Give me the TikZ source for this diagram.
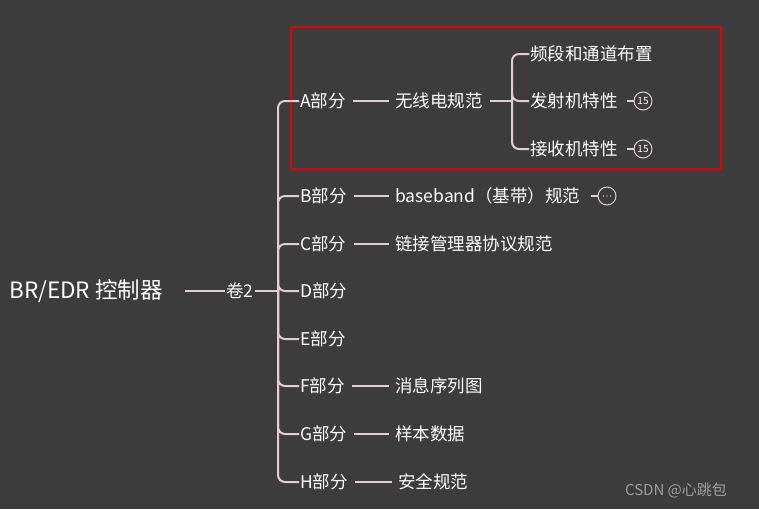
\documentclass[tikz,border=0pt]{standalone}
\usepackage{fontspec}
\setmainfont{Noto Sans CJK SC}
\usetikzlibrary{positioning}
\definecolor{bgcol}{HTML}{3C3C3C}
\definecolor{linkcol}{HTML}{E3CDD2}
\tikzset{
  topic/.style={text=white, font=\fontsize{17.5}{19}\selectfont, inner sep=1pt},
  leaf/.style={topic, anchor=west},
  link/.style={linkcol, line width=2pt},
  badge/.style={circle, draw=linkcol, line width=1pt, minimum size=18pt, inner sep=0pt, text=white, font=\fontsize{10}{11}\selectfont},
}
\begin{document}
\begin{tikzpicture}[x=1pt, y=-1pt]
  % background and frame
  \fill[bgcol] (0,0) rectangle (759,509);
  \useasboundingbox (0,0) rectangle (759,509);
  \draw[red!90!black, line width=1.4pt] (291,27) rectangle (721,169);

  % root and volume
  \node[topic, font=\fontsize{22.5}{24}\selectfont] (root) at (86,291) {BR/EDR 控制器};
  \node[topic] (vol) at (240,291) {卷2};
  \draw[link] (185,291) -- (vol.west);

  % parts
  \coordinate (trunk) at (278,291);
  \draw[link] (vol.east) -- (trunk);
  \foreach \name/\txt/\y in {pa/A部分/101, pb/B部分/196, pc/C部分/244, pd/D部分/291,
                             pe/E部分/339, pf/F部分/386, pg/G部分/434, ph/H部分/482} {
      \node[leaf] (\name) at (299,\y) {\txt};
      \draw[link, rounded corners=7pt] (trunk) |- (\name.west);
  }

  % second level
  \node[leaf] (ra) at (394,101) {无线电规范};
  \node[leaf] (rb) at (394,196) {baseband（基带）规范};
  \node[leaf] (rc) at (394,244) {链接管理器协议规范};
  \node[leaf] (rf) at (394,386) {消息序列图};
  \node[leaf] (rg) at (394,434) {样本数据};
  \node[leaf] (rh) at (397,482) {安全规范};
  \foreach \a/\b in {pa/ra, pb/rb, pc/rc, pf/rf, pg/rg, ph/rh}
      \draw[link] ([xshift=6pt]\a.east) -- ([xshift=-5pt]\b.west);

  % radio details
  \coordinate (fork) at (512,101);
  \draw[link] ([xshift=6pt]ra.east) -- (fork);
  \node[leaf] (ka) at (529,54) {频段和通道布置};
  \node[leaf] (kb) at (529,101) {发射机特性};
  \node[leaf] (kc) at (529,149) {接收机特性};
  \foreach \k in {ka, kb, kc}
      \draw[link, rounded corners=7pt] (fork) |- (\k.west);

  % badges
  \node[badge] (bb) at (643,101) {15};
  \node[badge] (bc) at (643,149) {15};
  \node[badge] (bm) at (607,196) {};
  \foreach \dx in {-3.5,0,3.5}
      \fill[white] ([xshift=\dx pt]bm.center) circle (0.7pt);
  \draw[link, line width=1.2pt] ([xshift=-7pt]bb.west) -- (bb.west);
  \draw[link, line width=1.2pt] ([xshift=-7pt]bc.west) -- (bc.west);
  \draw[link, line width=1.2pt] ([xshift=-7pt]bm.west) -- (bm.west);

  % watermark
  \node[text=gray!75, font=\fontsize{15}{17}\selectfont] (mark) at (676,490) {CSDN @心跳包};
\end{tikzpicture}
\end{document}
